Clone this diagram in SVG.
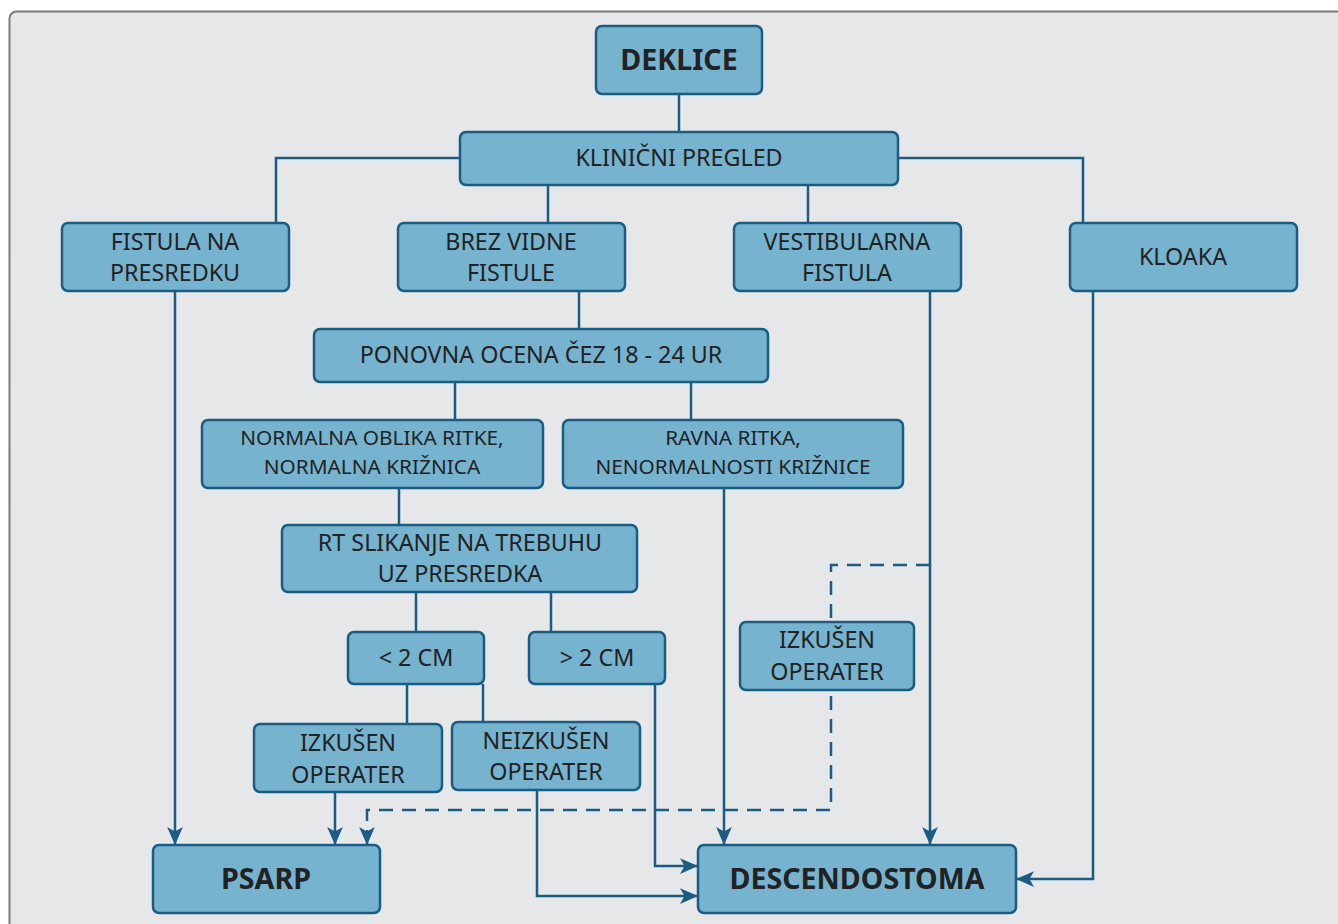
<svg xmlns="http://www.w3.org/2000/svg" width="1338" height="924" viewBox="0 0 1338 924">
<style>
.box{fill:#76b3cf;stroke:#1b5c82;stroke-width:2.5}
.t{font-family:"Noto Sans","Open Sans",sans-serif;font-size:23.3px;fill:#222;text-anchor:middle}
.s{font-size:20.8px}
.b{font-weight:bold;font-size:28.6px}
.ln{fill:none;stroke:#1b5c82;stroke-width:2.5}
.dash{stroke-dasharray:14 9}
</style>
<defs>
<marker id="arr" markerUnits="userSpaceOnUse" markerWidth="18" markerHeight="16" refX="16" refY="7" orient="auto" viewBox="0 0 16 14">
<path d="M0,0 L16,7 L0,14 L4,7 z" fill="#1b5c82"/>
</marker>
</defs>
<rect x="9.5" y="11.5" width="1345" height="940" rx="7" fill="#e6e7e9" stroke="#7a7a7a" stroke-width="2"/>
<g id="connectors">
<path class="ln" d="M679,94 V132"/>
<path class="ln" d="M460,158 H276 V223"/>
<path class="ln" d="M898,158 H1083 V223"/>
<path class="ln" d="M548,185 V223"/>
<path class="ln" d="M808,185 V223"/>
<path class="ln" d="M579,291 V329"/>
<path class="ln" d="M455,382 V420"/>
<path class="ln" d="M691,382 V420"/>
<path class="ln" d="M399,488 V525"/>
<path class="ln" d="M416,592 V632"/>
<path class="ln" d="M551,592 V632"/>
<path class="ln" d="M407,684 V724"/>
<path class="ln" d="M483,684 V722"/>
<path class="ln" d="M175,291 V845" marker-end="url(#arr)"/>
<path class="ln" d="M335,792 V845" marker-end="url(#arr)"/>
<path class="ln dash" d="M930,565 H831 V810 H367 V845" marker-end="url(#arr)"/>
<path class="ln" d="M537,790 V896 H698" marker-end="url(#arr)"/>
<path class="ln" d="M655,684 V866 H698" marker-end="url(#arr)"/>
<path class="ln" d="M724,488 V845" marker-end="url(#arr)"/>
<path class="ln" d="M930,291 V845" marker-end="url(#arr)"/>
<path class="ln" d="M1093,291 V879 H1016" marker-end="url(#arr)"/>
</g>
<g id="deklice"><rect class="box" x="596" y="26" width="166" height="68" rx="6"/><text class="t b" x="679" y="70">DEKLICE</text></g>
<g id="klinicni"><rect class="box" x="460" y="132" width="438" height="53" rx="6"/><text class="t" x="679" y="166">KLINIČNI PREGLED</text></g>
<g id="fistula-presredek"><rect class="box" x="62" y="223" width="227" height="68" rx="6"/><text class="t" x="175" y="250">FISTULA NA</text><text class="t" x="175" y="281">PRESREDKU</text></g>
<g id="brez-vidne"><rect class="box" x="398" y="223" width="227" height="68" rx="6"/><text class="t" x="511" y="250">BREZ VIDNE</text><text class="t" x="511" y="281">FISTULE</text></g>
<g id="vestibularna"><rect class="box" x="734" y="223" width="227" height="68" rx="6"/><text class="t" x="847" y="250">VESTIBULARNA</text><text class="t" x="847" y="281">FISTULA</text></g>
<g id="kloaka"><rect class="box" x="1070" y="223" width="227" height="68" rx="6"/><text class="t" x="1183" y="265">KLOAKA</text></g>
<g id="ponovna"><rect class="box" x="314" y="329" width="454" height="53" rx="6"/><text class="t" x="541" y="363">PONOVNA OCENA ČEZ 18 - 24 UR</text></g>
<g id="normalna"><rect class="box" x="202" y="420" width="341" height="68" rx="6"/><text class="t s" x="372" y="445">NORMALNA OBLIKA RITKE,</text><text class="t s" x="372" y="474">NORMALNA KRIŽNICA</text></g>
<g id="ravna"><rect class="box" x="563" y="420" width="340" height="68" rx="6"/><text class="t s" x="733" y="445">RAVNA RITKA,</text><text class="t s" x="733" y="474">NENORMALNOSTI KRIŽNICE</text></g>
<g id="rt"><rect class="box" x="282" y="525" width="355" height="67" rx="6"/><text class="t" x="460" y="551">RT SLIKANJE NA TREBUHU</text><text class="t" x="460" y="582">UZ PRESREDKA</text></g>
<g id="lt2"><rect class="box" x="348" y="632" width="136" height="52" rx="6"/><text class="t" x="416" y="666">&lt; 2 CM</text></g>
<g id="gt2"><rect class="box" x="529" y="632" width="136" height="52" rx="6"/><text class="t" x="597" y="666">&gt; 2 CM</text></g>
<g id="izkusen-left"><rect class="box" x="254" y="724" width="188" height="68" rx="6"/><text class="t" x="348" y="751">IZKUŠEN</text><text class="t" x="348" y="783">OPERATER</text></g>
<g id="neizkusen"><rect class="box" x="452" y="722" width="188" height="68" rx="6"/><text class="t" x="546" y="749">NEIZKUŠEN</text><text class="t" x="546" y="780">OPERATER</text></g>
<g id="izkusen-right"><rect class="box" x="740" y="622" width="174" height="68" rx="6"/><text class="t" x="827" y="648">IZKUŠEN</text><text class="t" x="827" y="680">OPERATER</text></g>
<g id="psarp"><rect class="box" x="153" y="845" width="227" height="68" rx="6"/><text class="t b" x="266" y="889">PSARP</text></g>
<g id="descendostoma"><rect class="box" x="698" y="845" width="318" height="68" rx="6"/><text class="t b" x="857" y="889">DESCENDOSTOMA</text></g>
</svg>
